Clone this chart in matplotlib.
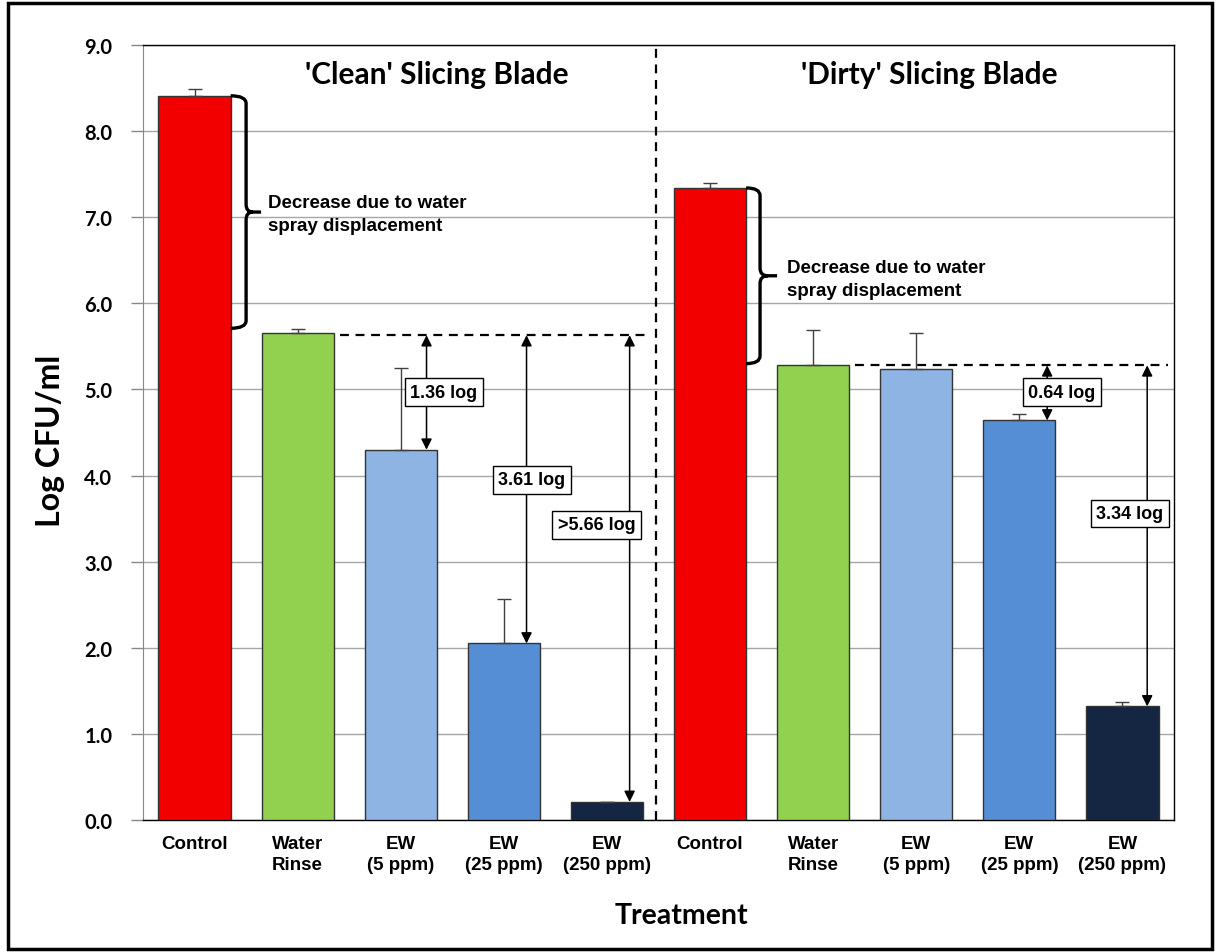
import matplotlib.pyplot as plt
from matplotlib.path import Path
from matplotlib.patches import PathPatch, Rectangle

# treatments for each blade condition
treatments = ['Control', 'Water\nRinse', 'EW\n(5 ppm)', 'EW\n(25 ppm)', 'EW\n(250 ppm)']
labels = treatments + treatments

clean_means = [8.41, 5.66, 4.30, 2.05, 0.21]
clean_err = [0.08, 0.04, 0.95, 0.52, 0.0]
dirty_means = [7.34, 5.28, 5.24, 4.64, 1.32]
dirty_err = [0.06, 0.41, 0.42, 0.07, 0.05]

means = clean_means + dirty_means
errs = clean_err + dirty_err
colors = ['#F20000', '#92D050', '#8EB4E3', '#558ED5', '#142641'] * 2

# reduction callouts: (label, x of arrow, bottom value, label x, label y)
clean_drops = [('1.36 log', 2.25, clean_means[2], 2.42, 4.97),
               ('3.61 log', 3.22, clean_means[3], 3.27, 3.95),
               ('>5.66 log', 4.22, clean_means[4], 3.90, 3.43)]
dirty_drops = [('0.64 log', 8.27, dirty_means[3], 8.41, 4.97),
               ('3.34 log', 9.24, dirty_means[4], 9.07, 3.56)]

title_font = 'Lato'
body_font = 'Liberation Sans'

fig = plt.figure(figsize=(12.22, 9.53), dpi=100)
ax = fig.add_axes([143 / 1222, 132 / 953, 1031 / 1222, 775 / 953])

x = list(range(len(means)))
ax.bar(x, means, width=0.7, color=colors, edgecolor='#333333', linewidth=1.0, zorder=3)
ax.errorbar(x, means, yerr=[[0] * len(errs), errs], fmt='none', ecolor='#404040',
            elinewidth=1.0, capsize=5, capthick=1.0, zorder=4)

ax.set_xlim(-0.5, 9.5)
ax.set_ylim(0, 9)
ax.set_yticks([i for i in range(10)])
ax.set_yticklabels([f'{i:.1f}' for i in range(10)], fontsize=14.5, fontweight='bold',
                   family=title_font)
ax.set_xticks(x)
ax.set_xticklabels(labels, fontsize=13.5, fontweight='bold', family=body_font,
                   linespacing=1.25)
ax.tick_params(axis='x', length=0, pad=11)
ax.tick_params(axis='y', length=9, color='#888888', width=1, pad=13)
ax.yaxis.grid(True, color='#A6A6A6', linewidth=1.0, zorder=0)

for side in ['top', 'right', 'bottom']:
    ax.spines[side].set_color('black')
    ax.spines[side].set_linewidth(1.0)
ax.spines['left'].set_color('#888888')

ax.set_ylabel('Log CFU/ml', fontsize=23, fontweight='bold', family=title_font)
ax.yaxis.set_label_coords(-0.076, 0.49)
ax.set_xlabel('Treatment', fontsize=20.5, fontweight='bold', family=title_font)
ax.xaxis.set_label_coords(0.522, -0.106)

# group divider and headings
ax.plot([4.48, 4.48], [0, 9], ls=(0, (4, 3)), color='black', lw=1.6, zorder=5)
ax.text(2.35, 8.66, "'Clean' Slicing Blade", ha='center', va='center', fontsize=21.5,
        fontweight='bold', family=title_font)
ax.text(7.13, 8.66, "'Dirty' Slicing Blade", ha='center', va='center', fontsize=21.5,
        fontweight='bold', family=title_font)


def brace(x0, xb, xt, top, bot, d=0.09):
    mid = (top + bot) / 2
    verts = [(x0, top), (xb, top), (xb, top - d),
             (xb, mid + d), (xb, mid), (xb + (xt - xb) * 0.45, mid),
             (xt, mid),
             (xb + (xt - xb) * 0.45, mid), (xb, mid), (xb, mid - d),
             (xb, bot + d), (xb, bot), (x0, bot)]
    codes = [Path.MOVETO, Path.CURVE3, Path.CURVE3,
             Path.LINETO, Path.CURVE3, Path.CURVE3,
             Path.LINETO,
             Path.MOVETO, Path.CURVE3, Path.CURVE3,
             Path.LINETO, Path.CURVE3, Path.CURVE3]
    ax.add_patch(PathPatch(Path(verts, codes), fill=False, lw=2.4, color='black', zorder=5))
    return mid


m1 = brace(0.35, 0.50, 0.645, clean_means[0], 5.71)
ax.text(0.71, m1 - 0.02, 'Decrease due to water\nspray displacement', ha='left', va='center',
        fontsize=13.5, fontweight='bold', family=body_font, linespacing=1.5)
m2 = brace(5.35, 5.485, 5.65, dirty_means[0], 5.30)
ax.text(5.745, m2 - 0.04, 'Decrease due to water\nspray displacement', ha='left', va='center',
        fontsize=13.5, fontweight='bold', family=body_font, linespacing=1.5)

# water rinse reference lines
ax.plot([1.41, 4.40], [clean_means[1] - 0.03] * 2, ls=(0, (4, 3)), color='black', lw=1.6, zorder=5)
ax.plot([6.41, 9.44], [dirty_means[1]] * 2, ls=(0, (4, 3)), color='black', lw=1.6, zorder=5)

box = dict(boxstyle='square,pad=0.3', facecolor='white', edgecolor='black', lw=1.0)
for drops, ref in [(clean_drops, clean_means[1] - 0.03), (dirty_drops, dirty_means[1])]:
    for text, ax_x, low, tx, ty in drops:
        ax.annotate('', xy=(ax_x, low), xytext=(ax_x, ref),
                    arrowprops=dict(arrowstyle='<|-|>', color='black', lw=1.1,
                                    mutation_scale=16, shrinkA=0, shrinkB=0), zorder=6)
        ax.text(tx, ty, text, ha='center', va='center', fontsize=13, fontweight='bold',
                family=body_font, bbox=box, zorder=7)

# outer frame
fig.patches.append(Rectangle((8 / 1222, 3 / 953), 1204 / 1222, 946 / 953, transform=fig.transFigure,
                             fill=False, edgecolor='black', lw=2.5))

fig.savefig('out.png', dpi=100)
